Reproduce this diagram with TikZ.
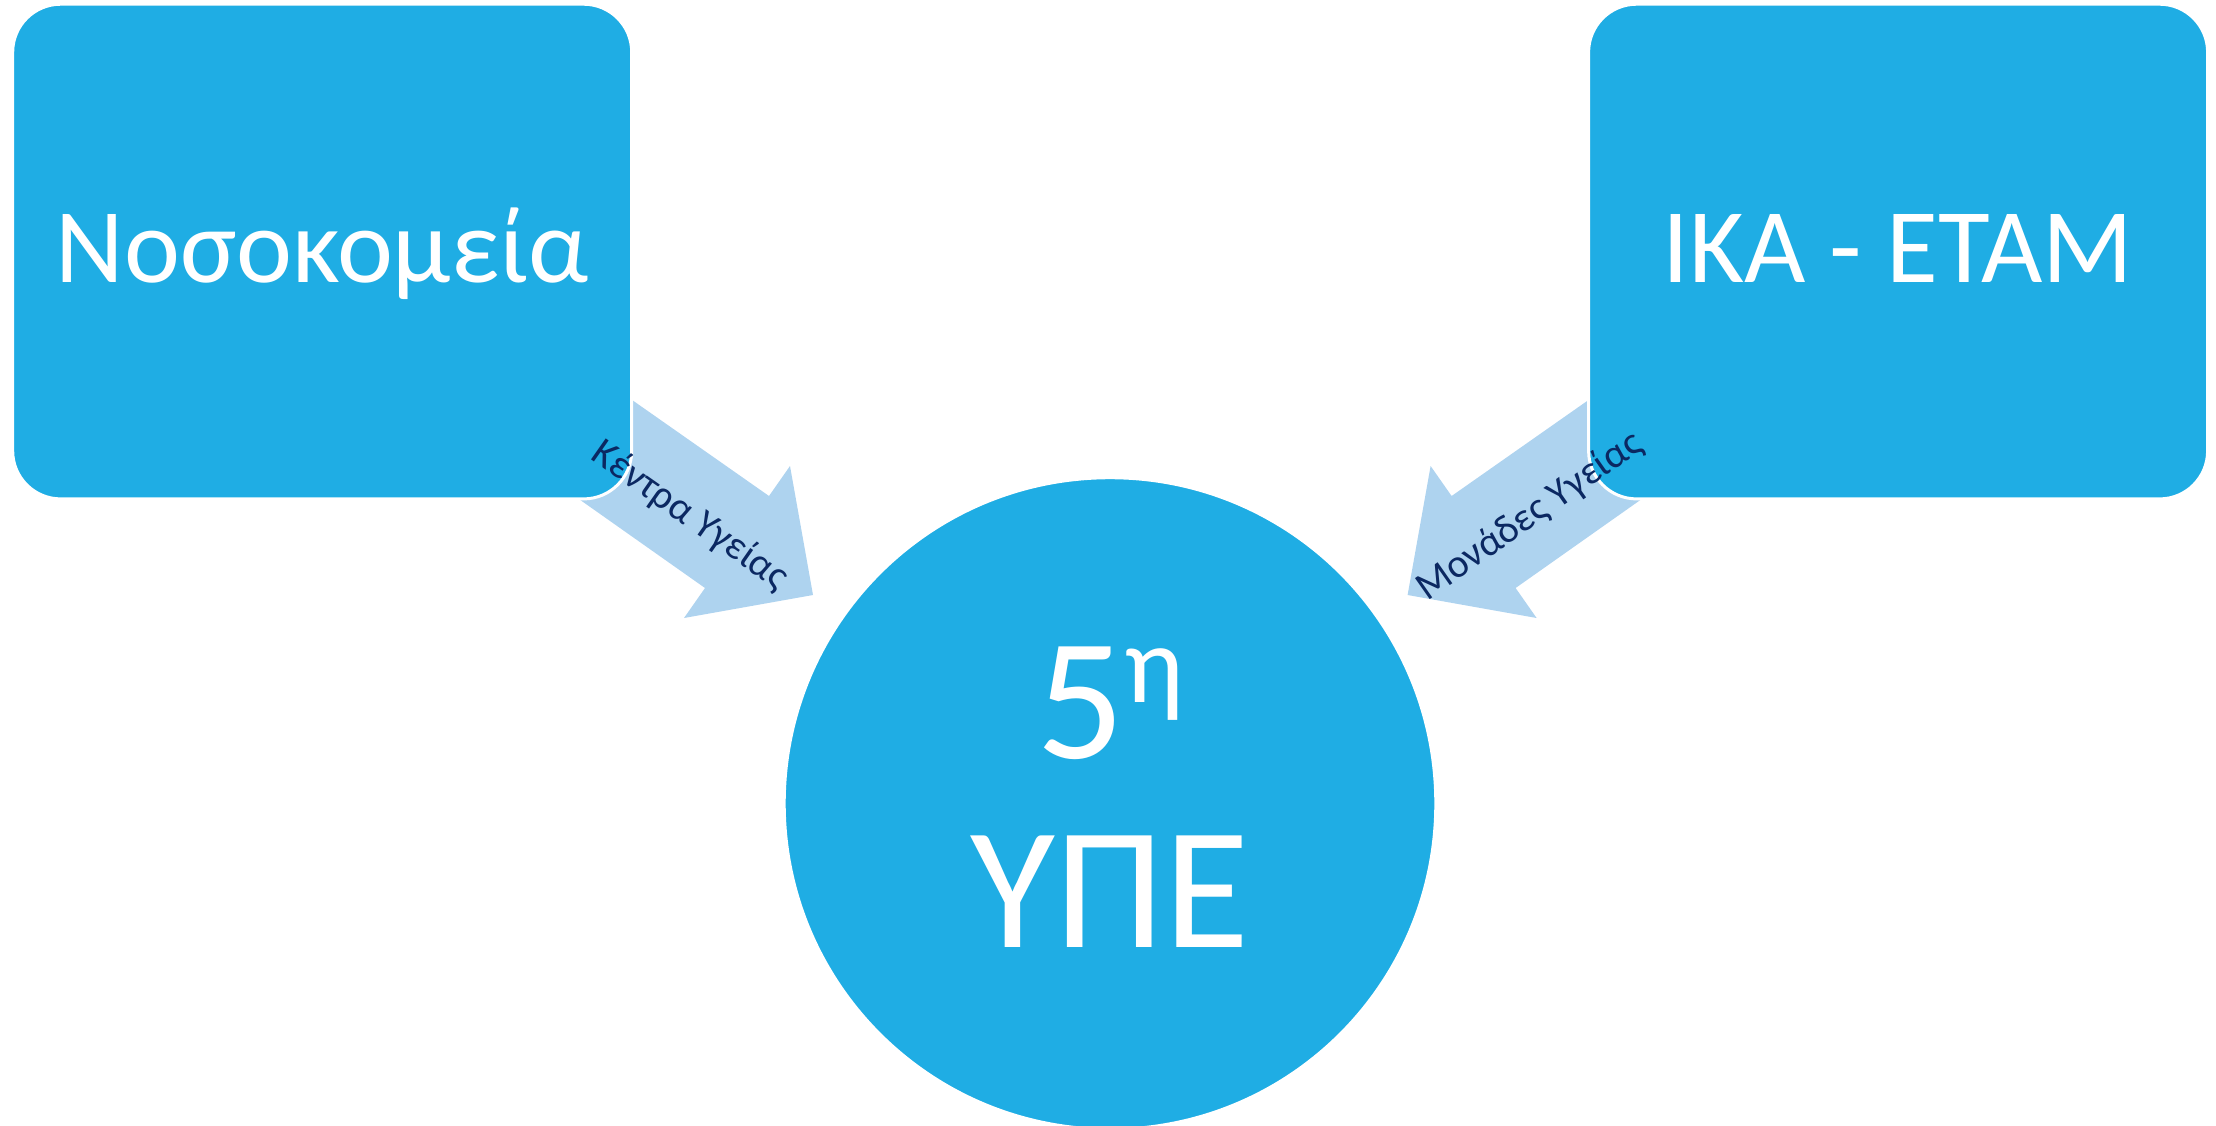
\documentclass[tikz,border=0pt]{standalone}
\usepackage{fontspec}
\setmainfont{Carlito}
\definecolor{boxblue}{HTML}{1FADE4}
\definecolor{arrowblue}{HTML}{AED3EF}
\definecolor{navy}{HTML}{0B2862}
\begin{document}
\begin{tikzpicture}[x=1pt,y=-1pt]
\tikzset{
  bigbox/.style={rectangle, rounded corners=48pt, fill=boxblue, draw=white, line width=3pt,
    minimum width=619pt, minimum height=494.7pt, text=white,
    font=\fontsize{106}{106}\selectfont, text height=61pt, text depth=0pt, inner sep=0pt},
  hub/.style={circle, fill=boxblue, draw=white, line width=3pt, minimum size=651.6pt, inner sep=0pt},
  hubtext/.style={text=white, font=\fontsize{174}{174}\selectfont, anchor=base, inner sep=0pt},
  blockarrow/.style={fill=arrowblue},
  arrowlabel/.style={text=navy, font=\fontsize{40}{40}\selectfont, inner sep=0pt}
}
\useasboundingbox (0,0) rectangle (2216,1125);
\clip (0,0) rectangle (2216,1125);
% block arrows
\fill[blockarrow] (595,374) -- (769,496) -- (790,466) -- (813,595) -- (684,618) -- (705,588) -- (542,473) -- cycle;
\fill[blockarrow] (1625.6,374) -- (1451.6,496) -- (1430.6,466) -- (1407.6,595) -- (1536.6,618) -- (1515.6,588) -- (1678.6,473) -- cycle;
% boxes
\node[bigbox] (hosp) at (322.2,251.55) {Νοσοκομεία};
\node[bigbox] (ika) at (1898.1,251.55) {ΙΚΑ - ΕΤΑΜ};
% hub
\node[hub] (upe) at (1110,803.5) {};
\node[hubtext] (five) at (1110,758) {5\raisebox{56pt}{\fontsize{111}{111}\selectfont η}};
\node[hubtext] (ype) at (1110,947) {ΥΠΕ};
% arrow labels
\node[arrowlabel, rotate=-35] (lbl1) at (690,516) {Κέντρα Υγείας};
\node[arrowlabel, rotate=35] (lbl2) at (1530,516) {Μονάδες Υγείας};
\end{tikzpicture}
\end{document}
